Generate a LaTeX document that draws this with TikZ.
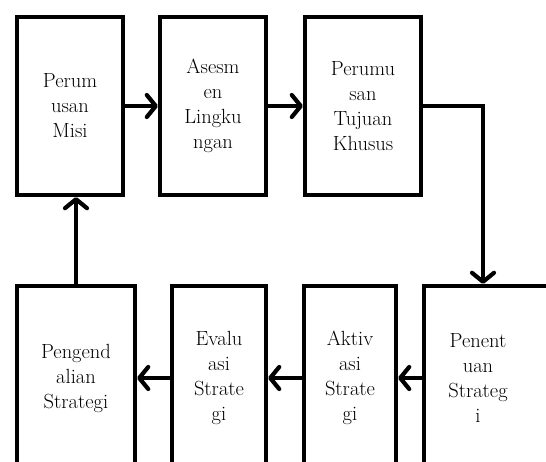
\documentclass[tikz,border=0pt]{standalone}
\usetikzlibrary{arrows.meta,positioning}
\begin{document}
\begin{tikzpicture}
[x=1pt,y=-1pt,line width=4.2pt,
box/.style={rectangle,draw,line width=4.2pt,align=center,inner sep=0pt,
  font=\fontsize{20.5}{25}\selectfont},
arr/.style={-{Straight Barb[length=9pt,width=22pt,round]}}]
\useasboundingbox (0,0) rectangle (546,462);
\clip (0,0) rectangle (546,462);
\node (v1) at (70,106)[box,minimum width=106,minimum height=178] {Perum\\usan\\Misi};
\node (v2) at (213,106)[box,minimum width=106,minimum height=178] {Asesm\\en\\Lingku\\ngan};
\node (v3) at (363,106)[box,minimum width=116,minimum height=178] {Perumu\\san\\Tujuan\\Khusus};

\node (A) at (76,378)[box,minimum width=118,minimum height=184] {Pengend\\alian\\Strategi};
\node (B) at (219,378)[box,minimum width=94,minimum height=184] {Evalu\\asi\\Strate\\gi};
\node (C) at (350,378)[box,minimum width=92,minimum height=184] {Aktiv\\asi\\Strate\\gi};
\node (D) at (497,378)[box,minimum width=146,minimum height=184] {};
\node (dtxt) at (478,378)[align=center,font=\fontsize{20.5}{25}\selectfont] {Penent\\uan\\Strateg\\i};
\coordinate (turn) at (483,106);

\draw[arr] (v1) -- (v2);
\draw[arr] (v2) -- (v3);
\draw[arr] (v3.east) -- (turn) -- (turn |- D.north);
\draw[arr] (D) -- (C);
\draw[arr] (C) -- (B);
\draw[arr] (B) -- (A);
\draw[arr] (A.north) -- (A.north |- v1.south);

\end{tikzpicture}
\end{document}
